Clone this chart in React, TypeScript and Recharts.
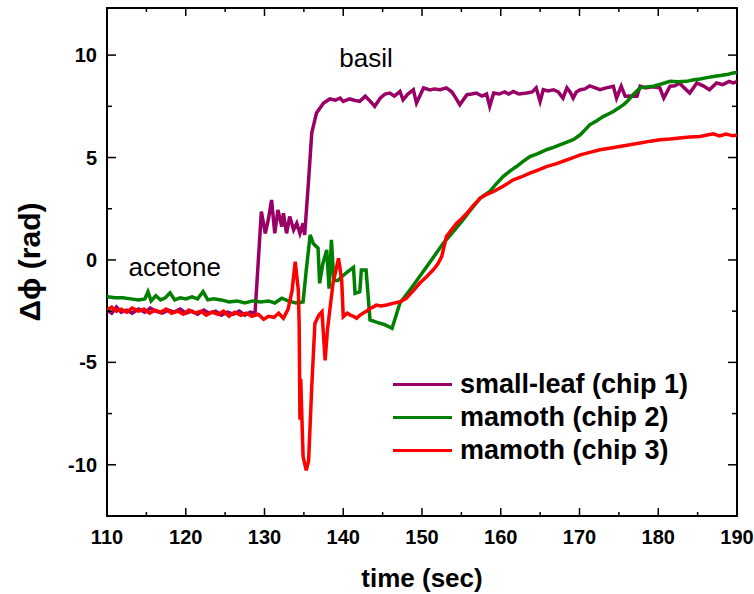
import { Legend, Line, LineChart, ReferenceArea, ReferenceDot, XAxis, YAxis } from "recharts";

// [time (s), delta phi (rad)]
const smallLeaf: [number, number][] = [
  [110, -2.45], [110.6, -2.6], [111.2, -2.3], [111.8, -2.55], [112.5, -2.45], [113.2, -2.6], [114, -2.4],
  [114.8, -2.55], [115.5, -2.35], [116.2, -2.5], [117, -2.6], [117.8, -2.45], [118.5, -2.55], [119.3, -2.4],
  [120, -2.6], [120.8, -2.5], [121.5, -2.65], [122.3, -2.45], [123, -2.6], [123.8, -2.5], [124.5, -2.7],
  [125.3, -2.55], [126, -2.65], [126.8, -2.5], [127.5, -2.7], [128.2, -2.55], [128.8, -2.6], [129.6, 2.36],
  [130.1, 1.3], [130.5, 2.0], [130.9, 2.93], [131.3, 1.3], [131.7, 2.44], [132.2, 1.63], [132.4, 2.28],
  [132.8, 1.3], [133.2, 2.12], [133.7, 1.47], [134.1, 1.79], [134.5, 1.3], [134.9, 1.79], [135.1, 1.22],
  [135.6, 3.9], [136.0, 6.2], [136.6, 7.17], [137.5, 7.66], [138.3, 7.86], [139.0, 7.8], [139.6, 7.9],
  [140.0, 7.74], [140.8, 7.86], [141.4, 7.8], [142.1, 7.74], [142.8, 7.99], [143.3, 7.8], [144.0, 7.5],
  [144.7, 7.9], [145.3, 8.1], [145.9, 8.15], [146.5, 8.0], [147.2, 8.23], [147.6, 7.82], [148.2, 8.1],
  [148.9, 8.31], [149.3, 7.66], [150.2, 8.4], [151.0, 8.3], [151.6, 8.35], [152.3, 8.31], [153.1, 8.4],
  [153.8, 8.2], [154.3, 7.9], [154.8, 7.58], [155.7, 8.07], [156.3, 8.1], [156.9, 8.15], [157.6, 8.0],
  [158.2, 8.1], [158.6, 7.5], [159.1, 8.15], [159.8, 8.1], [160.5, 8.2], [161.0, 8.1], [161.6, 8.23],
  [162.3, 8.1], [163.3, 8.15], [164.0, 8.2], [164.5, 8.4], [165.0, 7.74], [165.4, 8.31], [166.0, 8.25],
  [166.7, 8.31], [167.3, 8.2], [167.9, 7.9], [168.4, 8.4], [168.8, 8.2], [169.2, 7.9], [169.6, 8.2],
  [170.1, 8.31], [170.7, 8.35], [171.3, 8.5], [172.0, 8.4], [172.6, 8.31], [173.4, 8.4], [174.3, 8.48],
  [174.7, 7.9], [175.3, 8.48], [175.8, 7.99], [176.5, 8.0], [177.3, 7.99], [177.7, 8.48], [178.4, 8.4],
  [179.2, 8.45], [180.2, 8.4], [180.7, 7.9], [181.5, 8.48], [182.1, 8.5], [182.7, 8.64], [183.3, 8.4],
  [184.0, 8.15], [184.9, 8.64], [185.7, 8.5], [186.5, 8.31], [187.4, 8.64], [188.2, 8.56], [189.0, 8.72],
  [189.5, 8.64], [190, 8.7],
];

const mamoth2: [number, number][] = [
  [110, -1.8], [111, -1.85], [112, -1.85], [113, -1.9], [114, -1.95], [114.8, -1.9], [115.2, -1.55],
  [115.6, -2.0], [116.2, -1.75], [116.8, -1.95], [117.4, -1.85], [118, -1.6], [118.6, -1.95], [119.3, -1.85],
  [120, -1.9], [120.8, -1.8], [121.5, -1.9], [122.2, -1.55], [122.8, -1.95], [123.5, -1.9], [124.5, -1.95],
  [125.5, -2.05], [126.5, -2.0], [127.5, -2.1], [128.5, -2.0], [129.5, -2.05], [130.5, -2.0], [131.3, -2.1],
  [132.2, -1.87], [133.0, -2.0], [134, -2.1], [134.9, -2.05], [135.3, -0.5], [135.8, 1.22], [136.2, 0.8],
  [136.8, 0.57], [137.0, -1.14], [137.4, -0.2], [137.9, 0.49], [138.2, -1.4], [138.5, 0.98], [138.8, -1.0],
  [139.3, -1.0], [139.8, -0.82], [140.5, -0.6], [141.3, -0.36], [141.5, -1.63], [142.1, -1.55], [142.3, -0.49],
  [142.9, -0.49], [143.4, -2.93], [144.3, -3.05], [145.2, -3.15], [146.2, -3.34], [147.2, -2.1], [148.5, -1.45],
  [149.7, -0.81], [151.2, 0.0], [152.7, 0.81], [154.0, 1.4], [155.2, 1.96], [156.3, 2.5], [157.4, 3.02],
  [158.6, 3.34], [159.4, 3.7], [160.3, 4.07], [161.2, 4.35], [162.0, 4.56], [162.8, 4.8], [163.7, 5.05],
  [164.8, 5.2], [165.8, 5.38], [166.7, 5.5], [167.5, 5.62], [168.4, 5.75], [169.2, 5.87], [170.1, 6.11],
  [170.7, 6.35], [171.3, 6.6], [172.2, 6.8], [173.0, 7.0], [174.3, 7.25], [175.6, 7.58], [176.2, 7.8],
  [176.8, 8.07], [177.7, 8.4], [178.5, 8.45], [179.4, 8.48], [180.5, 8.6], [181.5, 8.72], [182.5, 8.7],
  [183.6, 8.72], [184.5, 8.8], [185.3, 8.83], [186.2, 8.9], [187.0, 8.96], [187.9, 9.0], [188.7, 9.05],
  [189.5, 9.13], [190, 9.15],
];

const mamoth3: [number, number][] = [
  [110, -2.45], [110.6, -2.3], [111.2, -2.5], [111.8, -2.4], [112.5, -2.55], [113.2, -2.35], [114, -2.5],
  [114.7, -2.4], [115.4, -2.6], [116.1, -2.45], [116.8, -2.55], [117.5, -2.4], [118.2, -2.6], [119, -2.5],
  [119.7, -2.65], [120.4, -2.45], [121.2, -2.6], [121.9, -2.5], [122.6, -2.7], [123.3, -2.55], [124.1, -2.65],
  [124.8, -2.5], [125.5, -2.75], [126.2, -2.55], [127, -2.7], [127.7, -2.6], [128.4, -2.75], [129.2, -2.65],
  [129.9, -2.9], [130.5, -2.75], [131.2, -2.8], [131.8, -2.6], [132.4, -2.85], [133.0, -2.4], [133.5, -1.5],
  [133.9, -0.08], [134.3, -1.5], [134.4, -3.1], [134.5, -7.8], [134.6, -5.8], [134.9, -9.6], [135.3, -10.27],
  [135.6, -9.8], [136.0, -6.2], [136.4, -3.1], [136.9, -2.7], [137.3, -2.53], [137.7, -4.9], [138.0, -3.4],
  [138.7, -1.14], [139.4, 0.08], [139.8, -0.98], [140.0, -2.77], [140.5, -2.6], [140.9, -2.69], [141.3, -2.75],
  [141.7, -2.85], [142.1, -2.7], [142.5, -2.6], [143.0, -2.5], [143.4, -2.36], [143.8, -2.3], [144.2, -2.2],
  [144.8, -2.25], [145.5, -2.2], [146.3, -2.12], [147.2, -2.04], [148.0, -1.87], [148.9, -1.5], [149.7, -1.14],
  [150.5, -0.85], [151.4, -0.49], [152.0, -0.2], [152.5, 0.16], [153.1, 1.14], [153.8, 1.5], [154.4, 1.79],
  [155.0, 2.0], [155.7, 2.28], [156.5, 2.65], [157.4, 3.02], [158.2, 3.2], [159.1, 3.34], [160.3, 3.6],
  [161.6, 3.91], [162.6, 4.05], [163.7, 4.24], [164.8, 4.4], [165.8, 4.56], [167.1, 4.7], [168.4, 4.89],
  [169.2, 5.0], [170.1, 5.13], [171.3, 5.25], [172.6, 5.38], [173.8, 5.45], [175.1, 5.54], [176.4, 5.62],
  [177.7, 5.71], [179.0, 5.8], [180.2, 5.87], [181.5, 5.9], [182.7, 5.95], [184.0, 6.0], [185.3, 6.03],
  [186.2, 6.1], [187.0, 6.16], [187.8, 6.05], [188.6, 6.15], [189.5, 6.06], [190, 6.1],
];

const seriesNames = ["small-leaf (chip 1)", "mamoth (chip 2)", "mamoth (chip 3)"];
const xTicks = [110, 115, 120, 125, 130, 135, 140, 145, 150, 155, 160, 165, 170, 175, 180, 185, 190];
const yTicks = [-10, -7.5, -5, -2.5, 0, 2.5, 5, 7.5, 10];
const X_DOMAIN: [number, number] = [110, 190];
const Y_DOMAIN: [number, number] = [-12.5, 12.3];

const FONT = "Arial, 'Liberation Sans', sans-serif";
const W = 754;
const H = 594;
const M = { top: 8, right: 17, bottom: 0, left: 0 };
const X_AXIS_H = 78;
const Y_AXIS_W = 107;
const PLOT_W = W - M.left - M.right - Y_AXIS_W;
const PLOT_H = H - M.top - M.bottom - X_AXIS_H;
const LINE_W = 3.5;

const toRows = (pts: [number, number][]) => pts.map(([t, v]) => ({ t, v }));

function XTick(props: any) {
  const { x, y, payload } = props;
  const major = payload.value % 10 === 0;
  const len = major ? 8 : 4;
  return (
    <g>
      <line x1={x} x2={x} y1={y} y2={y - len} stroke="#000" strokeWidth={1.5} />
      <line x1={x} x2={x} y1={y - PLOT_H} y2={y - PLOT_H + len} stroke="#000" strokeWidth={1.5} />
      {major && (
        <text x={x} y={y + 28} textAnchor="middle" fontFamily={FONT} fontWeight="bold" fontSize={20} fill="#000">
          {payload.value}
        </text>
      )}
    </g>
  );
}

function YTick(props: any) {
  const { x, y, payload } = props;
  const major = payload.value % 5 === 0;
  const len = major ? 9 : 5;
  return (
    <g>
      <line x1={x} x2={x + len} y1={y} y2={y} stroke="#000" strokeWidth={1.5} />
      <line x1={x + PLOT_W} x2={x + PLOT_W - len} y1={y} y2={y} stroke="#000" strokeWidth={1.5} />
      {major && (
        <text x={x - 10} y={y + 7} textAnchor="end" fontFamily={FONT} fontWeight="bold" fontSize={20} fill="#000">
          {payload.value}
        </text>
      )}
    </g>
  );
}

function LegendBox({ payload }: any) {
  const items = [...(payload ?? [])].sort(
    (a: any, b: any) => seriesNames.indexOf(a.value) - seriesNames.indexOf(b.value),
  );
  return (
    <div style={{ fontFamily: FONT }}>
      {items.map((p: any) => (
        <div key={p.value} style={{ display: "flex", alignItems: "center", height: 33 }}>
          <span style={{ display: "inline-block", width: 59, height: 3, background: p.color, marginRight: 8 }} />
          <span style={{ fontWeight: "bold", fontSize: 27, color: "#000", whiteSpace: "nowrap" }}>{p.value}</span>
        </div>
      ))}
    </div>
  );
}

export default function App() {
  return (
    <div style={{ position: "absolute", left: 0, top: 0, width: W, height: H, background: "#fff" }}>
      <LineChart width={W} height={H} margin={M}>
        <XAxis
          dataKey="t"
          type="number"
          domain={X_DOMAIN}
          ticks={xTicks}
          interval={0}
          allowDataOverflow
          height={X_AXIS_H}
          axisLine={false}
          tickLine={false}
          tickSize={0}
          tickMargin={0}
          tick={(p: any) => <XTick {...p} />}
        />
        <YAxis
          type="number"
          domain={Y_DOMAIN}
          ticks={yTicks}
          interval={0}
          allowDataOverflow
          width={Y_AXIS_W}
          axisLine={false}
          tickLine={false}
          tickSize={0}
          tickMargin={0}
          tick={(p: any) => <YTick {...p} />}
        />
        <Line data={toRows(smallLeaf)} dataKey="v" name={seriesNames[0]} stroke="#990066" strokeWidth={LINE_W} dot={false} isAnimationActive={false} />
        <Line data={toRows(mamoth2)} dataKey="v" name={seriesNames[1]} stroke="#008000" strokeWidth={LINE_W} dot={false} isAnimationActive={false} />
        <Line data={toRows(mamoth3)} dataKey="v" name={seriesNames[2]} stroke="#ff0000" strokeWidth={LINE_W} dot={false} isAnimationActive={false} />
        <ReferenceArea x1={X_DOMAIN[0]} x2={X_DOMAIN[1]} y1={Y_DOMAIN[0]} y2={Y_DOMAIN[1]} fill="none" stroke="#000" strokeWidth={2} ifOverflow="visible" />
        <ReferenceDot x={118.6} y={-0.34} r={0} fill="none" stroke="none"
          label={{ value: "acetone", position: "center", fontSize: 26, fill: "#000", fontFamily: FONT }} />
        <ReferenceDot x={142.9} y={9.88} r={0} fill="none" stroke="none"
          label={{ value: "basil", position: "center", fontSize: 26, fill: "#000", fontFamily: FONT }} />
        <Legend
          layout="vertical"
          align="center"
          verticalAlign="middle"
          wrapperStyle={{ left: 393, top: 368, width: "auto" }}
          content={(p: any) => <LegendBox {...p} />}
        />
      </LineChart>
      <div style={{ position: "absolute", left: Y_AXIS_W, width: PLOT_W, top: 564, textAlign: "center", fontFamily: FONT, fontWeight: "bold", fontSize: 26, lineHeight: "28px" }}>
        time (sec)
      </div>
      <div style={{ position: "absolute", left: 30, top: 262, transform: "translate(-50%, -50%) rotate(-90deg)", whiteSpace: "nowrap", fontFamily: FONT, fontWeight: "bold", fontSize: 30, lineHeight: "32px" }}>
        Δϕ (rad)
      </div>
    </div>
  );
}
